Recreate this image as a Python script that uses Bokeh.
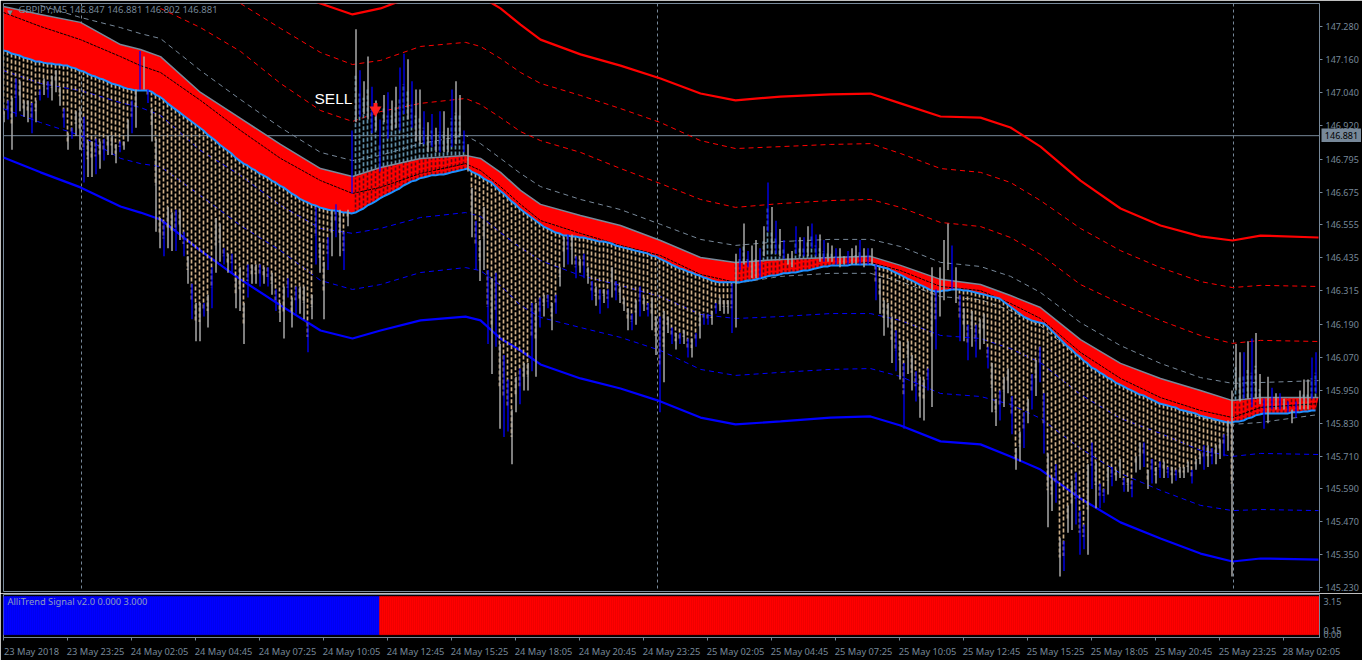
from bokeh.embed import file_html
from bokeh.resources import INLINE
from bokeh.models import ColumnDataSource, FixedTicker, Label, Span, Range1d, PrintfTickFormatter, Spacer
from bokeh.layouts import column, row
from bokeh.plotting import figure
import numpy as np

# Title / texts
symbol_text = "GBPJPY,M5  146.847 146.881 146.802 146.881"
signal_text = "AlliTrend Signal v2.0 0.000 3.000"
last_price = 146.881
price_ticks = [147.280, 147.160, 147.040, 146.920, 146.795, 146.675, 146.555, 146.435, 146.315,
               146.190, 146.070, 145.950, 145.830, 145.710, 145.590, 145.470, 145.350, 145.230]
time_labels = ["23 May 2018", "23 May 23:25", "24 May 02:05", "24 May 04:45", "24 May 07:25", "24 May 10:05",
               "24 May 12:45", "24 May 15:25", "24 May 18:05", "24 May 20:45", "24 May 23:25", "25 May 02:05",
               "25 May 04:45", "25 May 07:25", "25 May 10:05", "25 May 12:45", "25 May 15:25", "25 May 18:05",
               "25 May 20:45", "25 May 23:25", "28 May 02:05"]
period_sep_bars = [39, 327, 615]

# Bars (every second bar of the chart)
bar_high = [
146.97,147.01,147.02,147.09,147.08,147.01,147.01,147.00,147.01,147.05,
147.09,147.08,147.10,147.12,147.06,146.98,146.89,146.91,146.97,146.98,
146.95,146.86,146.86,146.87,146.86,146.87,146.88,146.88,146.85,146.86,
146.86,146.94,147.01,147.05,147.19,147.17,147.05,146.98,146.87,146.58,
146.57,146.62,146.60,146.61,146.61,146.53,146.44,146.34,146.27,146.27,
146.27,146.30,146.40,146.58,146.56,146.47,146.45,146.45,146.36,146.40,
146.27,146.41,146.41,146.41,146.41,146.40,146.40,146.38,146.32,146.27,
146.33,146.36,146.29,146.33,146.33,146.33,146.20,146.30,146.62,146.49,
146.42,146.51,146.61,146.63,146.61,146.53,146.61,146.90,147.27,147.12,
147.08,147.17,147.06,147.01,146.94,147.03,147.04,147.01,147.06,147.13,
147.18,147.16,147.08,147.05,147.05,146.97,146.93,146.96,146.91,146.97,
146.97,146.91,147.05,147.08,147.03,146.90,146.85,146.69,146.57,146.50,
146.62,146.39,146.36,146.38,146.12,146.08,145.99,145.88,146.00,146.03,
146.05,146.05,146.27,146.27,146.29,146.30,146.30,146.27,146.30,146.40,
146.51,146.52,146.52,146.44,146.43,146.45,146.40,146.35,146.33,146.32,
146.32,146.32,146.40,146.35,146.33,146.29,146.25,146.23,146.28,146.33,
146.29,146.27,146.29,146.22,146.22,146.24,146.22,146.18,146.16,146.16,
146.17,146.14,146.14,146.16,146.23,146.23,146.23,146.24,146.27,146.29,
146.28,146.28,146.34,146.45,146.47,146.56,146.46,146.48,146.50,146.47,
146.55,146.71,146.62,146.57,146.54,146.50,146.45,146.46,146.55,146.51,
146.51,146.55,146.56,146.52,146.52,146.50,146.49,146.48,146.47,146.47,
146.44,146.46,146.47,146.48,146.50,146.47,146.47,146.47,146.41,146.36,
146.28,146.27,146.22,146.17,146.13,146.05,146.13,146.08,146.02,146.00,
145.99,146.03,146.40,146.32,146.40,146.50,146.56,146.48,146.40,146.30,
146.25,146.19,146.24,146.19,146.21,146.23,146.11,146.05,145.92,145.95,
146.00,146.03,145.93,145.74,145.80,145.87,145.92,146.01,146.06,146.11,
145.94,145.72,145.63,145.68,145.41,145.40,145.53,145.62,145.65,145.51,
145.46,145.68,145.76,145.69,145.61,145.59,145.67,145.67,145.66,145.70,
145.63,145.63,145.62,145.71,145.76,145.76,145.66,145.70,145.67,145.69,
145.69,145.67,145.67,145.66,145.67,145.67,145.69,145.66,145.70,145.72,
145.75,145.75,145.74,145.75,145.77,145.79,145.84,145.95,146.12,146.09,
146.09,146.13,146.14,146.16,146.01,145.92,146.00,145.96,145.94,145.94,
145.92,145.91,145.88,145.91,145.95,145.99,145.99,146.07,146.09]
bar_low = [
146.93,146.94,146.83,146.95,146.97,146.95,146.93,146.89,146.93,147.01,
147.03,147.02,147.01,147.04,146.99,146.91,146.83,146.87,146.88,146.83,
146.71,146.73,146.73,146.74,146.76,146.79,146.81,146.81,146.78,146.82,
146.83,146.86,146.89,146.91,147.05,147.05,147.00,146.86,146.53,146.47,
146.44,146.47,146.46,146.46,146.50,146.44,146.34,146.21,146.13,146.13,
146.22,146.18,146.25,146.38,146.42,146.41,146.38,146.38,146.25,146.24,
146.12,146.29,146.34,146.34,146.33,146.34,146.33,146.30,146.24,146.20,
146.14,146.29,146.18,146.23,146.23,146.21,146.09,146.21,146.41,146.38,
146.21,146.39,146.44,146.51,146.44,146.39,146.55,146.67,146.93,146.95,
146.96,146.94,146.89,146.90,146.75,146.93,146.87,146.90,146.91,146.90,
146.96,146.94,146.91,146.86,146.85,146.85,146.82,146.84,146.82,146.82,
146.82,146.82,146.84,146.85,146.88,146.82,146.75,146.51,146.39,146.35,
146.39,146.12,146.01,146.11,145.81,145.78,145.80,145.68,145.87,145.90,
145.95,145.95,146.02,146.00,146.18,146.22,146.25,146.17,146.23,146.33,
146.40,146.41,146.41,146.36,146.38,146.36,146.34,146.28,146.26,146.23,
146.27,146.25,146.29,146.28,146.27,146.24,146.17,146.17,146.19,146.22,
146.24,146.22,146.17,146.08,145.87,145.98,146.16,146.12,146.10,146.12,
146.12,146.07,146.07,146.11,146.14,146.19,146.19,146.19,146.23,146.24,
146.23,146.23,146.16,146.18,146.39,146.41,146.40,146.36,146.36,146.36,
146.44,146.53,146.45,146.45,146.44,146.43,146.41,146.40,146.45,146.44,
146.44,146.44,146.47,146.44,146.42,146.42,146.42,146.42,146.41,146.40,
146.41,146.41,146.41,146.41,146.41,146.40,146.41,146.41,146.28,146.23,
146.15,146.18,146.05,146.02,145.99,145.81,146.01,145.95,145.91,145.85,
145.84,145.95,145.89,146.10,146.22,146.28,146.39,146.32,146.27,146.13,
146.13,146.06,146.11,146.07,146.10,146.12,146.03,145.87,145.82,145.84,
145.89,145.94,145.79,145.66,145.69,145.74,145.83,145.88,145.93,145.98,
145.72,145.45,145.51,145.54,145.27,145.29,145.43,145.44,145.46,145.35,
145.37,145.35,145.59,145.52,145.52,145.54,145.57,145.60,145.62,145.63,
145.58,145.58,145.56,145.65,145.66,145.67,145.59,145.61,145.61,145.63,
145.63,145.63,145.61,145.62,145.63,145.63,145.65,145.61,145.66,145.68,
145.66,145.67,145.68,145.68,145.70,145.71,145.73,145.27,145.95,145.91,
145.92,145.92,145.89,145.92,145.90,145.81,145.83,145.88,145.88,145.88,
145.88,145.87,145.83,145.85,145.88,145.88,145.88,145.92,145.94]
bar_dirs = ("dududddudu" "dudddududd" "uddududddu" "ddudududdd" "uddudududd"
            "ududdududd" "duddududud" "dududdudud" "dududududu" "ddudududdu"
            "ududdududu" "ddudduddud" "dududuuddu" "ddudududud" "dududududu"
            "dududddudu" "dudduddudu" "dududuudud" "ddudududdu" "dudududdud"
            "uduududdud" "duddududud" "dddududdud" "dududddudu" "dududduddu"
            "dduddududu" "uddududduu" "ududuududd" "ududdududu" "dududddudd"
            "ududdudddd" "ududdududu" "dududdduu")

# Lower edge of the red band, per drawn bar
band_low = [
147.192,147.189,147.181,147.178,147.174,147.167,147.163,147.159,147.152,147.152,
147.148,147.145,147.145,147.141,147.141,147.137,147.137,147.130,147.127,147.119,
147.116,147.108,147.101,147.097,147.090,147.086,147.079,147.072,147.068,147.064,
147.057,147.053,147.050,147.046,147.046,147.046,147.046,147.042,147.031,147.024,
147.013,146.999,146.988,146.977,146.966,146.955,146.944,146.933,146.922,146.911,
146.900,146.885,146.874,146.863,146.849,146.838,146.827,146.816,146.801,146.790,
146.779,146.772,146.761,146.754,146.743,146.736,146.728,146.717,146.710,146.699,
146.692,146.681,146.670,146.662,146.651,146.644,146.637,146.630,146.626,146.619,
146.615,146.611,146.608,146.608,146.604,146.600,146.600,146.597,146.600,146.608,
146.615,146.626,146.633,146.641,146.651,146.659,146.666,146.673,146.681,146.688,
146.699,146.706,146.714,146.717,146.725,146.728,146.732,146.736,146.736,146.739,
146.739,146.743,146.747,146.750,146.754,146.757,146.761,146.750,146.743,146.736,
146.725,146.717,146.710,146.695,146.681,146.670,146.655,146.641,146.630,146.615,
146.604,146.593,146.582,146.571,146.560,146.549,146.542,146.535,146.527,146.524,
146.516,146.516,146.513,146.513,146.509,146.509,146.505,146.502,146.498,146.494,
146.494,146.491,146.487,146.480,146.476,146.472,146.469,146.465,146.461,146.458,
146.454,146.451,146.443,146.440,146.432,146.425,146.418,146.410,146.403,146.396,
146.392,146.385,146.381,146.374,146.370,146.363,146.359,146.352,146.348,146.345,
146.345,146.345,146.345,146.345,146.345,146.348,146.352,146.352,146.356,146.359,
146.363,146.367,146.370,146.370,146.374,146.378,146.378,146.381,146.381,146.385,
146.388,146.388,146.392,146.396,146.399,146.403,146.403,146.407,146.407,146.407,
146.407,146.407,146.410,146.410,146.410,146.410,146.410,146.410,146.407,146.403,
146.399,146.396,146.388,146.381,146.374,146.367,146.359,146.352,146.345,146.337,
146.330,146.323,146.315,146.312,146.312,146.315,146.315,146.319,146.319,146.319,
146.315,146.315,146.312,146.308,146.304,146.301,146.297,146.293,146.290,146.286,
146.275,146.264,146.253,146.242,146.231,146.220,146.213,146.206,146.202,146.198,
146.195,146.184,146.169,146.155,146.140,146.125,146.111,146.100,146.085,146.074,
146.059,146.049,146.034,146.027,146.016,146.008,145.997,145.990,145.979,145.972,
145.965,145.957,145.950,145.943,145.935,145.932,145.924,145.917,145.910,145.902,
145.899,145.895,145.891,145.888,145.880,145.877,145.873,145.870,145.866,145.859,
145.855,145.851,145.848,145.844,145.840,145.837,145.833,145.833,145.837,145.837,
145.840,145.848,145.851,145.859,145.862,145.866,145.866,145.866,145.866,145.866,
145.866,145.866,145.870,145.870,145.870,145.873,145.873,145.877,145.877]

# Upper edge of the band in the three sell stretches (drawn-bar position of the first value, values)
sell_first = [88, 183, 308]
band_high_a = [146.736,146.739,146.747,146.750,146.754,146.761,146.765,146.768,146.772,146.772,
               146.776,146.779,146.783,146.787,146.790,146.794,146.798,146.798,146.801,146.801,
               146.805,146.805,146.805,146.809,146.809,146.809,146.809,146.809,146.809]
band_high_b = [146.418,146.418,146.418,146.418,146.421,146.421,146.421,146.421,146.425,146.425,
               146.425,146.425,146.429,146.429,146.429,146.429,146.432,146.432,146.432,146.432,
               146.432,146.436,146.436,146.436,146.436,146.436,146.436,146.440,146.440,146.440,
               146.440,146.440,146.440,146.440,146.440]
band_high_c = [145.913,145.917,145.921,145.924,145.924,145.924,145.924,145.924,145.924,145.924,
               145.924,145.924,145.924,145.924,145.924,145.924,145.924,145.924,145.924,145.924,145.924]

# Slow curves: bar numbers and prices read at them
line_bars = [0,18.5,38.5,58.5,68.5,78.5,98.5,118.5,138.5,158.5,
             174.5,188.5,208.5,231,238.5,248.5,258.5,268.5,288.5,308.5,
             328.5,348.5,366,388.5,413.5,433.5,448.5,468.5,488.5,503.5,
             518.5,538.5,558.5,578.5,598.5,614.5,628.5,657.5]
band_top = [147.353,147.324,147.295,147.214,147.196,147.170,147.039,146.944,146.849,146.761,
            146.732,146.765,146.798,146.809,146.798,146.747,146.681,146.630,146.589,146.553,
            146.498,146.436,146.418,146.429,146.436,146.440,146.407,146.356,146.337,146.297,
            146.253,146.136,146.049,145.994,145.950,145.913,145.924,145.924]
band_mid = [147.331,147.280,147.232,147.170,147.137,147.112,147.010,146.900,146.798,146.717,
            146.670,146.692,146.743,146.779,146.754,146.695,146.630,146.571,146.524,146.480,
            146.443,146.374,146.345,146.370,146.407,146.418,146.388,146.330,146.315,146.268,
            146.213,146.089,145.994,145.924,145.877,145.851,145.888,145.902]
upper_1 = [147.357,147.313,147.276,147.254,147.236,147.119,147.013,146.911,146.820,
           146.790,146.809,146.852,146.882,146.852,146.798,146.743,146.695,146.648,146.611,
           146.557,146.502,146.480,146.494,146.502,146.502,146.476,146.418,146.403,146.367,
           146.308,146.198,146.114,146.049,145.997,145.976,145.979,145.986]
upper_2 = [147.346,147.276,147.189,147.072,146.973,146.933,146.969,146.999,147.017,146.995,
           146.947,146.896,146.863,146.820,146.761,146.706,146.648,146.619,146.633,146.644,
           146.648,146.619,146.564,146.549,146.509,146.447,146.337,146.268,146.206,146.151,
           146.122,146.133,146.129]
upper_3 = [147.364,147.273,147.185,147.141,147.156,147.207,147.222,147.207,147.163,147.112,
           147.072,147.028,146.980,146.929,146.863,146.834,146.841,146.849,146.852,146.816,
           146.761,146.747,146.710,146.644,146.542,146.461,146.399,146.348,146.326,146.334,146.330]
upper_4 = [147.419,147.364,147.324,147.346,147.401,147.404,147.390,147.346,147.287,147.232,
           147.178,147.137,147.090,147.035,147.010,147.024,147.032,147.035,146.999,146.951,
           146.947,146.911,146.841,146.717,146.615,146.553,146.513,146.498,146.516,146.509]
lower_1 = [146.341,146.367,146.378,146.378,146.348,146.293,146.282,146.242,146.187,146.067,
           145.972,145.906,145.851,145.826,145.833,145.862]
lower_2 = [147.119,147.072,147.046,147.002,146.984,146.955,146.827,146.736,146.626,146.542,
           146.524,146.542,146.582,146.600,146.586,146.527,146.472,146.425,146.370,146.334,
           146.293,146.228,146.213,146.220,146.231,146.231,146.206,146.151,146.140,146.103,
           146.052,145.935,145.848,145.793,145.731,145.709,145.720,145.716]
lower_3 = [146.980,146.929,146.882,146.798,146.779,146.768,146.662,146.553,146.461,146.352,
           146.319,146.337,146.381,146.399,146.388,146.334,146.261,146.217,146.180,146.144,
           146.096,146.027,146.005,146.016,146.027,146.030,146.001,145.939,145.928,145.899,
           145.848,145.738,145.647,145.585,145.530,145.511,145.515,145.511]
lower_4 = [146.801,146.747,146.692,146.622,146.600,146.575,146.461,146.356,146.261,146.169,
           146.140,146.169,146.206,146.220,146.206,146.140,146.096,146.045,145.994,145.957,
           145.910,145.851,145.826,145.837,145.851,145.855,145.822,145.764,145.753,145.709,
           145.661,145.555,145.468,145.409,145.354,145.325,145.336,145.332]

# SELL signal
sell_bar = 186
sell_price = 146.975

# Lower window: signal values
signal_blue = [3.0] * 188
signal_red = [3.0] * 470
signal_levels = {2.625: "3.15", 0.30: "0.15", 0.0: "0.00"}

FG = "#778899"
FONT = "Noto Sans"
TS = "9px"

p = figure(width=1362, height=593, output_backend="svg", toolbar_location=None,
           x_range=Range1d(0, 658), y_range=Range1d(145.2154, 147.3640),
           x_axis_location=None, y_axis_location="right",
           background_fill_color="black", border_fill_color="black",
           min_border_left=3, min_border_right=43, min_border_top=3, min_border_bottom=2,
           outline_line_color=FG)
p.grid.visible = False
ax = p.yaxis[0]
ax.ticker = FixedTicker(ticks=price_ticks)
ax.formatter = PrintfTickFormatter(format="%.3f")
ax.axis_line_color = FG
ax.major_tick_line_color = FG
ax.major_tick_in = 0
ax.major_tick_out = 3
ax.minor_tick_line_color = None
ax.major_label_standoff = 3
ax.major_label_text_color = FG
ax.major_label_text_font = FONT
ax.major_label_text_font_size = TS

for b in period_sep_bars:
    p.add_layout(Span(location=b, dimension="height", line_color=FG, line_dash="3 3", line_width=1, level="underlay"))
p.add_layout(Span(location=last_price, dimension="width", line_color=FG, line_width=1, level="underlay"))

lb = np.array(line_bars)
n = len(lb)
def curve(vals, color, width=1.0, dash="5 4"):
    xs = lb[n - len(vals):]
    if dash:
        p.line(xs, vals, line_color=color, line_width=width, line_dash=dash)
    else:
        p.line(xs, vals, line_color=color, line_width=width)

curve(upper_1, FG); curve(upper_2, "#ff0000"); curve(upper_3, "#ff0000")
curve(upper_4, "#ff0000", 2.2, None)
curve(lower_1, FG); curve(lower_2, "#0000ff"); curve(lower_3, "#0000ff")
curve(lower_4, "#0000ff", 2.2, None)

hi = np.array(bar_high)
lo = np.array(bar_low)
bl = np.array(band_low)
bx = np.arange(len(hi)) * 2.0
close = (hi + lo) / 2.0
is_sell = np.zeros(len(hi), dtype=bool)
for first, vals in zip(sell_first, (band_high_a, band_high_b, band_high_c)):
    is_sell[first:first + len(vals)] = True

# hatch below the band
m = (~is_sell) & (close < bl)
p.segment(bx[m], bl[m], bx[m], close[m], line_color="#cdae88", line_width=1.7, line_dash="4 2")

# the band
p.patch(np.concatenate([lb, bx[::-1]]), np.concatenate([band_top, bl[::-1]]), fill_color="#ff0000", line_color=None)

# hatch inside and above the band during sell stretches
for first, vals in zip(sell_first, (band_high_a, band_high_b, band_high_c)):
    idx = np.arange(first, first + len(vals))
    bh = np.array(vals)
    p.segment(bx[idx], bl[idx], bx[idx], bh, line_color="#5a0a14", line_width=1.6, line_dash="3 2")
    k = close[idx] > bh
    p.segment(bx[idx][k], bh[k], bx[idx][k], close[idx][k], line_color="#5f8ea8", line_width=1.7, line_dash="4 2")

p.line(lb, band_mid, line_color="black", line_width=1, line_dash="3 1")
p.line(lb, band_top, line_color=FG, line_width=1.5)
p.line(bx, bl, line_color="#1e90ff", line_width=2)

bar_src = ColumnDataSource(dict(x=bx + 0.25, hi=hi, lo=lo,
                                c=["#0000ff" if d == "u" else "#a9a9a9" for d in bar_dirs],
                                w=[1.3 if d == "u" else 1.5 for d in bar_dirs]))
p.segment("x", "lo", "x", "hi", source=bar_src, line_color="c", line_width="w")

# sell arrow
p.segment([sell_bar], [sell_price], [sell_bar], [sell_price + 0.025], line_color="#ff2020", line_width=4)
p.scatter([sell_bar], [sell_price], marker="inverted_triangle", size=12, fill_color="#ff2020", line_color=None)
p.add_layout(Label(x=155.5, y=147.017, text="SELL", text_color="white", text_font="Liberation Sans",
                   text_font_size="15.5px", text_baseline="middle"))
p.add_layout(Label(x=2, y=147.33, text="▼", text_color=FG, text_font="DejaVu Sans",
                   text_font_size="7px", text_baseline="middle"))
p.add_layout(Label(x=7.5, y=147.342, text=symbol_text, text_color=FG, text_font=FONT,
                   text_font_size="9.5px", text_baseline="middle"))

q = figure(width=1362, height=67, output_backend="svg", toolbar_location=None,
           x_range=p.x_range, y_range=Range1d(-0.225, 3.15),
           x_axis_location="below", y_axis_location="right",
           background_fill_color="black", border_fill_color="black",
           min_border_left=3, min_border_right=43, min_border_top=1, min_border_bottom=21,
           outline_line_color=FG)
q.grid.visible = False
ya = q.yaxis[0]
ya.ticker = FixedTicker(ticks=list(signal_levels))
ya.major_label_overrides = signal_levels
ya.axis_line_color = FG
ya.major_tick_line_color = None
ya.major_tick_out = 0
ya.major_tick_in = 0
ya.minor_tick_line_color = None
ya.major_label_standoff = 4
ya.major_label_text_color = FG
ya.major_label_text_font = FONT
ya.major_label_text_font_size = TS

xa = q.xaxis[0]
tick_bars = [32 * i for i in range(len(time_labels))]
label_centres = [b + 14 for b in tick_bars]
xa.ticker = FixedTicker(ticks=label_centres, minor_ticks=tick_bars)
xa.major_label_overrides = dict(zip(label_centres, time_labels))
xa.major_label_text_color = FG
xa.major_label_text_font = FONT
xa.major_label_text_font_size = "9.3px"
xa.major_tick_line_color = None
xa.major_tick_in = 0
xa.major_tick_out = 0
xa.major_label_standoff = 4
xa.axis_line_color = FG
xa.minor_tick_line_color = FG
xa.minor_tick_in = 0
xa.minor_tick_out = 3

all_sig = signal_blue + signal_red
cols = ["#0000ff"] * len(signal_blue) + ["#ff0000"] * len(signal_red)
xs = np.arange(len(all_sig)) + 0.5
q.vbar(x=xs, top=all_sig, bottom=0, width=1.0, fill_color=cols, line_color=cols, line_width=0.5)

q.add_layout(Label(x=2, y=2.625, text=signal_text, text_color="#8f9cc0", text_font=FONT,
                   text_font_size="9.3px", text_baseline="middle"))

# small price tag laid over the price scale at the last price
r = figure(width=40, height=14, output_backend="svg", toolbar_location=None,
           x_range=Range1d(0, 1), y_range=Range1d(0, 1),
           x_axis_location=None, y_axis_location=None,
           background_fill_color=FG, border_fill_color=FG, outline_line_color=None,
           min_border_left=0, min_border_right=0, min_border_top=0, min_border_bottom=0)
r.grid.visible = False
r.text([0.5], [0.5], text=["%.3f" % last_price], text_color="black", text_font={"value": FONT},
       text_font_size="9px", text_align="center", text_baseline="middle")
tag = row(Spacer(width=1321, height=14), r, spacing=0, margin=(-532, 0, 518, 0))

layout = column(p, q, tag, spacing=0)
open("out.html", "w").write(file_html(layout, INLINE))
